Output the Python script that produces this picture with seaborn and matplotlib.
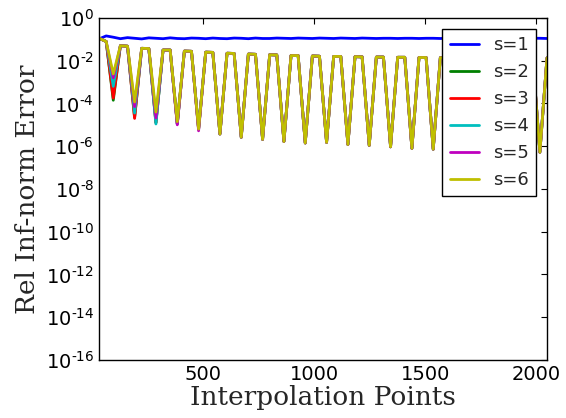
import numpy as np
import pandas as pd
import matplotlib
matplotlib.use("Agg")
import matplotlib.pyplot as plt
import matplotlib.ticker as mticker
import seaborn as sns

# interpolation points (every 32 up to 2048)
points = list(range(32, 2049, 32))

# log10 of relative inf-norm error
err_s1 = [-0.98, -0.84, -0.90, -0.97, -0.92, -0.95, -0.98, -0.93, -0.95, -0.97,
          -0.93, -0.96, -0.97, -0.94, -0.95, -0.97, -0.94, -0.96, -0.97, -0.94,
          -0.95, -0.97, -0.94, -0.96, -0.96, -0.94, -0.95, -0.96, -0.94, -0.95,
          -0.96, -0.94, -0.95, -0.96, -0.94, -0.95, -0.96, -0.94, -0.95, -0.96,
          -0.95, -0.95, -0.96, -0.95, -0.95, -0.96, -0.95, -0.95, -0.96, -0.95,
          -0.95, -0.96, -0.95, -0.95, -0.96, -0.95, -0.95, -0.96, -0.95, -0.95,
          -0.96, -0.95, -0.95, -0.96]

# s=6 curve (the others lie under it except at the first troughs)
err_s6 = [-0.95, -1.10, -2.62, -1.30, -1.32, -3.93, -1.42, -1.43, -4.40, -1.50,
          -1.50, -4.85, -1.55, -1.56, -5.20, -1.60, -1.61, -5.43, -1.65, -1.66,
          -5.58, -1.69, -1.70, -5.68, -1.72, -1.73, -5.78, -1.76, -1.76, -5.85,
          -1.78, -1.79, -5.82, -1.80, -1.80, -5.92, -1.81, -1.82, -5.96, -1.83,
          -1.83, -6.03, -1.84, -1.84, -6.10, -1.85, -1.85, -6.14, -1.86, -1.86,
          -6.18, -1.86, -1.87, -6.21, -1.87, -1.87, -6.24, -1.87, -1.88, -6.26,
          -1.88, -1.88, -6.28, -1.87]

# first five troughs (96, 192, 288, 384, 480) for s=2..5
trough_idx = [2, 5, 8, 11, 14]
troughs = {
    "s=2": [-3.85, -4.65, -4.90, -4.95, -5.20],
    "s=3": [-3.75, -4.70, -4.90, -4.95, -5.20],
    "s=4": [-3.20, -4.45, -4.96, -4.95, -5.20],
    "s=5": [-2.80, -4.15, -4.68, -5.00, -5.28],
}

labels = ["s=1", "s=2", "s=3", "s=4", "s=5", "s=6"]
colors = ["#0000ff", "#008000", "#ff0000", "#00bfbf", "#bf00bf", "#bfbf00"]

series = {"s=1": err_s1, "s=6": err_s6}
for lab, vals in troughs.items():
    s = list(err_s6)
    for i, v in zip(trough_idx, vals):
        s[i] = v
    series[lab] = s

rows = []
for lab in labels:
    for x, v in zip(points, series[lab]):
        rows.append({"points": x, "err": 10 ** v, "s": lab})
df = pd.DataFrame(rows)

sns.set_style("white")
plt.rcParams.update({
    "font.family": "DejaVu Sans",
    "xtick.direction": "in",
    "ytick.direction": "in",
    "xtick.top": True,
    "ytick.right": True,
    "xtick.major.size": 4,
    "ytick.major.size": 4,
    "axes.edgecolor": "black",
    "axes.linewidth": 1.0,
    "axes.unicode_minus": False,
})

fig = plt.figure(figsize=(5.66, 4.18), dpi=100)
ax = fig.add_axes([0.175, 0.139, 0.7914, 0.818])

sns.lineplot(data=df, x="points", y="err", hue="s", hue_order=labels,
             palette=colors, linewidth=2, ax=ax)

ax.set_yscale("log")
ax.set_ylim(1e-16, 1)
ax.set_xlim(32, 2048)
yt = [10.0 ** -k for k in range(0, 17, 2)]
ax.yaxis.set_major_locator(mticker.FixedLocator(yt))
ax.yaxis.set_minor_locator(mticker.NullLocator())


def sci(v, pos):
    e = int(round(np.log10(v)))
    if e == 0:
        return r"$10^{0}$"
    return r"$10^{\text{-}%d}$" % (-e)


ax.yaxis.set_major_formatter(mticker.FuncFormatter(sci))
ax.set_xticks([500, 1000, 1500, 2000])
ax.tick_params(labelsize=14, width=0.8, colors="black")

ax.set_xlabel("Interpolation Points", family="DejaVu Serif", fontsize=19, labelpad=1)
ax.set_ylabel("Rel Inf-norm Error", family="DejaVu Serif", fontsize=19, labelpad=4)

sns.move_legend(ax, "upper right", title=None, frameon=True, fancybox=False,
                edgecolor="black", framealpha=1, fontsize=13, handlelength=1.6,
                borderaxespad=0.6)
leg = ax.get_legend()
leg.get_frame().set_linewidth(1.0)

fig.savefig("out.png", dpi=100)
